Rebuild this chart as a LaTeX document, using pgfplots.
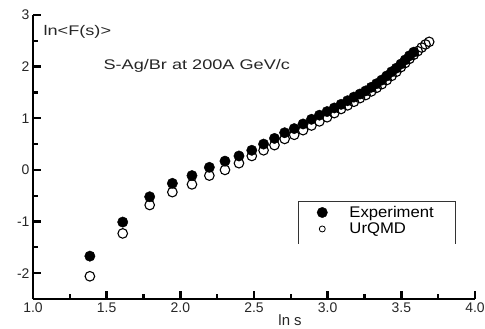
\documentclass[border=0pt]{standalone}
\usepackage{fontspec}
\setmainfont{Liberation Sans}
\newfontfamily\widefont[FakeStretch=1.3]{Liberation Sans}
\newfontfamily\legfont[FakeStretch=1.08]{Liberation Sans}
\usepackage{pgfplots}
\usepackage{pgfplotstable}
\pgfplotsset{compat=1.18}
\pgfplotstableread{
lns y
1.386 -1.67
1.609 -1.01
1.792 -0.52
1.946 -0.26
2.079 -0.11
2.197 0.05
2.303 0.17
2.398 0.27
2.485 0.38
2.565 0.50
2.639 0.61
2.708 0.72
2.773 0.80
2.833 0.89
2.890 0.98
2.944 1.06
2.996 1.13
3.045 1.20
3.091 1.27
3.135 1.34
3.178 1.41
3.219 1.47
3.258 1.53
3.296 1.60
3.332 1.67
3.367 1.74
3.401 1.82
3.434 1.90
3.466 1.97
3.497 2.05
3.526 2.13
3.555 2.21
3.584 2.28
}\expdata
\pgfplotstableread{
lns y
1.386 -2.06
1.609 -1.23
1.792 -0.68
1.946 -0.43
2.079 -0.28
2.197 -0.11
2.303 0.00
2.398 0.13
2.485 0.27
2.565 0.38
2.639 0.48
2.708 0.60
2.773 0.68
2.833 0.77
2.890 0.86
2.944 0.94
2.996 1.02
3.045 1.10
3.091 1.18
3.135 1.25
3.178 1.32
3.219 1.39
3.258 1.45
3.296 1.52
3.332 1.59
3.367 1.66
3.401 1.74
3.434 1.82
3.466 1.90
3.497 1.99
3.526 2.07
3.555 2.15
3.584 2.23
3.611 2.30
3.638 2.37
3.664 2.43
3.689 2.48
}\urqmd
\begin{document}
\begin{tikzpicture}
\begin{axis}[
  at={(0,0)}, anchor=south west,
  scale only axis, width=442bp, height=284bp,
  xmin=1, xmax=4, ymin=-2.5, ymax=3,
  axis x line*=bottom, axis y line*=left,
  axis line style={-, line width=2.4pt, draw=black},
  xtick={1,1.5,2,2.5,3,3.5,4}, ytick={-2,-1,0,1,2,3},
  major tick length=0pt,
  /pgf/number format/assume math mode=true,
  x tick label style={/pgf/number format/fixed, /pgf/number format/fixed zerofill, /pgf/number format/precision=1},
  tick label style={font=\fontsize{14}{16}\selectfont, text=black!85},
  legend style={draw=none, fill=none, at={(axis cs:2.92,-0.64)}, anchor=north west,
    font=\legfont\fontsize{15.5}{17}\selectfont, row sep=0pt, inner sep=1bp, column sep=20bp},
  legend cell align=left,
  clip=false,
]
\addplot[only marks, mark=*, mark size=5.2bp, draw=black, fill=black] table[x=lns, y=y] {\expdata};
\addlegendentry{Experiment}
\addplot[only marks, mark=o, mark size=4.8bp, draw=black, line width=1.1pt, fill=white, mark options={fill=white}, legend image post style={mark size=3bp, line width=0.8pt}] table[x=lns, y=y] {\urqmd};
\addlegendentry{UrQMD}
\draw[line width=1pt, black!80] (axis cs:2.80,-1.43) -- (axis cs:2.80,-0.61) -- (axis cs:3.865,-0.61) -- (axis cs:3.865,-1.43);
\node[anchor=west, font=\widefont\fontsize{14}{16}\selectfont, text=black!85] at (axis cs:1.048,2.68) {ln<F(s)>};
\node[anchor=west, font=\widefont\fontsize{14}{16}\selectfont, text=black!85] at (axis cs:1.455,2.01) {S-Ag/Br at 200A GeV/c};
\node[font=\fontsize{15}{17}\selectfont, text=black!85] at (axis cs:2.745,-2.5) [yshift=-21bp] {ln s};
\end{axis}
% inside ticks, drawn in picture coordinates (axis corner at origin, 442bp x 284bp)
\foreach \x in {1.5,2,2.5,3,3.5,4}{
  \pgfmathsetmacro\xx{(\x-1)*442/3}
  \draw[black, line width=2.4pt] (\xx bp,0bp) -- (\xx bp,8bp);}
\foreach \x in {1.25,1.75,2.25,2.75,3.25,3.75}{
  \pgfmathsetmacro\xx{(\x-1)*442/3}
  \draw[black, line width=2.2pt] (\xx bp,0bp) -- (\xx bp,5bp);}
\foreach \y in {-2,-1,0,1,2,3}{
  \pgfmathsetmacro\yy{(\y+2.5)*284/5.5}
  \draw[black, line width=2.4pt] (0bp,\yy bp) -- (8bp,\yy bp);}
\foreach \y in {-1.5,-0.5,0.5,1.5,2.5}{
  \pgfmathsetmacro\yy{(\y+2.5)*284/5.5}
  \draw[black, line width=2.2pt] (0bp,\yy bp) -- (5bp,\yy bp);}
\pgfresetboundingbox
\path (-33bp,-30bp) rectangle (452bp,299bp);
\end{tikzpicture}
\end{document}
